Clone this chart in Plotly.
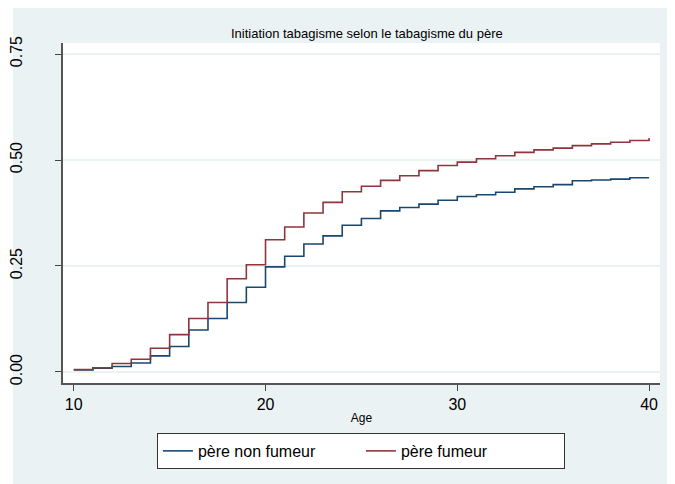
import plotly.graph_objects as go

# ages at which the step curves change (Kaplan-Meier style cumulative initiation)
ages = list(range(10, 41))

# père non fumeur
non_fumeur = [0.005, 0.009, 0.013, 0.021, 0.038, 0.060, 0.099, 0.126, 0.164, 0.200,
              0.248, 0.273, 0.302, 0.321, 0.346, 0.362, 0.380, 0.388, 0.396, 0.405,
              0.414, 0.418, 0.424, 0.432, 0.437, 0.442, 0.451, 0.453, 0.455, 0.458,
              0.458]

# père fumeur
fumeur = [0.006, 0.010, 0.020, 0.030, 0.056, 0.088, 0.126, 0.164, 0.220, 0.253,
          0.312, 0.342, 0.375, 0.400, 0.425, 0.438, 0.452, 0.463, 0.475, 0.487,
          0.495, 0.503, 0.510, 0.518, 0.524, 0.528, 0.534, 0.538, 0.542, 0.546,
          0.552]

y_ticks = [0, 0.25, 0.5, 0.75]
y_labels = ["0.00", "0.25", "0.50", "0.75"]
x_ticks = [10, 20, 30, 40]

bg = "#EAF2F3"
blue = "#1A476F"
red = "#90353B"

fig = go.Figure()
fig.add_trace(go.Scatter(x=ages, y=non_fumeur, mode="lines", line_shape="hv",
                         name="père non fumeur", line=dict(color=blue, width=1.6)))
fig.add_trace(go.Scatter(x=ages, y=fumeur, mode="lines", line_shape="hv",
                         name="père fumeur", line=dict(color=red, width=1.6)))

# thin white strip on the left (the page margin gives the rest)
fig.add_shape(type="rect", xref="paper", yref="paper", x0=-0.2, x1=-0.0838, y0=-0.5, y1=1.3,
              fillcolor="white", line_width=0, layer="below")

fig.update_layout(
    width=667, height=476,
    margin=dict(l=55, r=15, t=35, b=101),
    paper_bgcolor=bg, plot_bgcolor="white",
    font=dict(family="Liberation Sans, Arial, sans-serif", color="black"),
    title=dict(text="Initiation tabagisme selon le tabagisme du père",
               x=0.538, xanchor="center", y=0.9475, yanchor="middle",
               font=dict(size=13)),
    xaxis=dict(range=[9.44, 40.57], tickvals=x_ticks, ticks="outside", ticklen=6,
               tickcolor="#444", showline=True, linecolor="#555", linewidth=1.5,
               showgrid=False, zeroline=False, tickfont=dict(size=16), automargin=False,
               title=dict(text="Age", font=dict(size=12), standoff=2)),
    yaxis=dict(range=[-0.026, 0.776], tickvals=y_ticks, ticktext=y_labels,
               ticks="outside", ticklen=6, tickcolor="#444", tickangle=-90,
               showline=True, linecolor="#555", linewidth=1.5,
               showgrid=True, gridcolor=bg, gridwidth=1.5, zeroline=False,
               tickfont=dict(size=16), ticklabelstandoff=27, automargin=False),
    legend=dict(orientation="h", x=0.499, xanchor="center", y=-0.147, yanchor="top",
                bgcolor="white", bordercolor="#333", borderwidth=1,
                font=dict(size=16), entrywidth=158, entrywidthmode="pixels"),
    showlegend=True,
)

fig.write_html("out.html")
